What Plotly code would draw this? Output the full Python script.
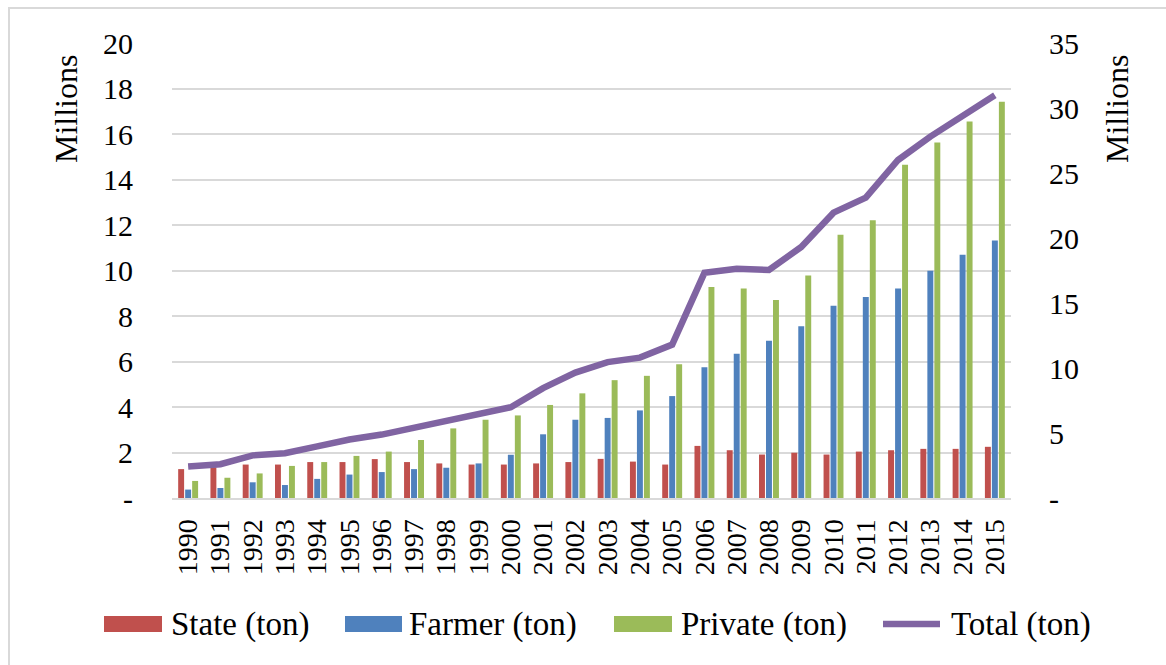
import plotly.graph_objects as go

years = [str(y) for y in range(1990, 2016)]

state = [1.27, 1.35, 1.47, 1.47, 1.58, 1.58, 1.71, 1.58, 1.52, 1.47, 1.47, 1.52, 1.58,
         1.72, 1.60, 1.47, 2.29, 2.10, 1.91, 1.99, 1.91, 2.04, 2.10, 2.16, 2.16, 2.25]
farmer = [0.37, 0.44, 0.69, 0.57, 0.84, 1.03, 1.14, 1.27, 1.33, 1.52, 1.90, 2.80, 3.44,
          3.52, 3.85, 4.48, 5.75, 6.34, 6.91, 7.55, 8.45, 8.83, 9.21, 9.99, 10.69, 11.32]
private = [0.75, 0.89, 1.08, 1.41, 1.58, 1.85, 2.04, 2.55, 3.06, 3.44, 3.63, 4.09, 4.60,
           5.18, 5.37, 5.88, 9.28, 9.21, 8.70, 9.78, 11.57, 12.21, 14.65, 15.63, 16.55, 17.42]
total = [2.42, 2.60, 3.28, 3.44, 3.97, 4.50, 4.88, 5.42, 5.96, 6.44, 6.98, 8.45, 9.65,
         10.45, 10.80, 11.80, 17.32, 17.64, 17.54, 19.31, 21.95, 23.10, 26.0, 27.8, 29.35, 30.98]

left_vals = [0, 2, 4, 6, 8, 10, 12, 14, 16, 18, 20]
left_text = ["-", "2", "4", "6", "8", "10", "12", "14", "16", "18", "20"]
right_vals = [0, 5, 10, 15, 20, 25, 30, 35]
right_text = ["-", "5", "10", "15", "20", "25", "30", "35"]

names = ["State (ton)", "Farmer (ton)", "Private (ton)", "Total (ton)"]
colors = ["#c0504d", "#4f81bd", "#9bbb59", "#8064a2"]

FONT = "Times New Roman, Liberation Serif, DejaVu Serif, serif"
W, H = 1166, 665
L, R, T, B = 172, 1011, 43, 498


def px(x):
    return (x - L) / (R - L)


def py(y):
    return (B - y) / (B - T)


fig = go.Figure()
for vals, nm, c in zip([state, farmer, private], names[:3], colors[:3]):
    fig.add_trace(go.Bar(x=years, y=vals, name=nm, marker=dict(color=c, line=dict(width=0)),
                         showlegend=False, yaxis="y"))
fig.add_trace(go.Scatter(x=years, y=total, name=names[3], mode="lines",
                         line=dict(color=colors[3], width=6.5), yaxis="y2", showlegend=False))

fig.update_layout(
    width=W, height=H,
    margin=dict(l=L, r=W - R, t=T, b=H - B),
    paper_bgcolor="white", plot_bgcolor="white",
    barmode="group", bargap=0.35, bargroupgap=0.15,
    font=dict(family=FONT, size=29, color="black"),
    xaxis=dict(type="category", tickmode="array", tickvals=years, ticktext=years,
               tickangle=-90, showgrid=False, showline=True,
               linecolor="#d9d9d9", linewidth=2, ticks="outside", ticklen=8,
               tickcolor="rgba(0,0,0,0)", tickfont=dict(family=FONT, size=28)),
    yaxis=dict(range=[0, 20], tickvals=left_vals, ticktext=left_text, showgrid=True,
               gridcolor="#d9d9d9", gridwidth=2, zeroline=False, showline=False,
               ticks="outside", ticklen=32, tickcolor="rgba(0,0,0,0)",
               tickfont=dict(family=FONT, size=30)),
    yaxis2=dict(range=[0, 35], tickvals=right_vals, ticktext=right_text, overlaying="y",
                side="right", showgrid=False, zeroline=False, showline=False,
                ticks="outside", ticklen=31, tickcolor="rgba(0,0,0,0)",
                tickfont=dict(family=FONT, size=30)),
)

annotations = [
    dict(x=px(66), y=py(109), text="Millions", textangle=-90, font=dict(family=FONT, size=32),
         xanchor="center", yanchor="middle"),
    dict(x=px(1117), y=py(109), text="Millions", textangle=-90, font=dict(family=FONT, size=32),
         xanchor="center", yanchor="middle"),
]
shapes = [
    dict(type="rect", xref="paper", yref="paper", x0=px(9), x1=px(1180), y0=py(8), y1=py(680),
         line=dict(color="#d9d9d9", width=2), fillcolor="rgba(0,0,0,0)", layer="below"),
]

legend_items = [
    (104, 162, 169),
    (345, 402, 407),
    (614, 672, 679),
    (880, 943, 949),
]
ly = 624
for i, (s0, s1, tx) in enumerate(legend_items):
    if i < 3:
        shapes.append(dict(type="rect", xref="paper", yref="paper", x0=px(s0), x1=px(s1),
                           y0=py(ly + 8), y1=py(ly - 8), fillcolor=colors[i], line=dict(width=0)))
    else:
        shapes.append(dict(type="line", xref="paper", yref="paper", x0=px(s0 + 3), x1=px(s1 - 3),
                           y0=py(ly), y1=py(ly), line=dict(color=colors[i], width=6.5)))
    annotations.append(dict(x=px(tx), y=py(ly), text=names[i], xanchor="left", yanchor="middle",
                            font=dict(family=FONT, size=33)))

for a in annotations:
    a.update(xref="paper", yref="paper", showarrow=False)
fig.update_layout(annotations=annotations, shapes=shapes)

fig.write_html("out.html")
